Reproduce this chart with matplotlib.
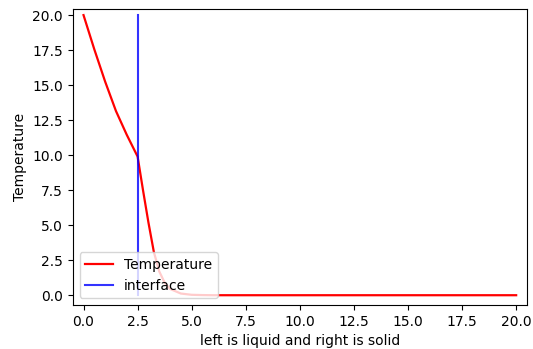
import numpy as np
import matplotlib.pyplot as plt

# Temperature profile
position = [0.0, 0.5, 1.0, 1.5, 2.0, 2.5, 2.75, 3.0, 3.25, 3.5, 3.75, 4.0, 4.5, 5.0, 5.5, 6.0, 10.0, 15.0, 20.0]
temperature = [20.0, 17.55, 15.25, 13.15, 11.45, 9.9, 7.5, 5.2, 3.1, 1.7, 0.9, 0.45, 0.12, 0.03, 0.01, 0.0, 0.0, 0.0, 0.0]

# Interface location
interface_x = [2.5, 2.5]
interface_y = [0.0, 20.0]

plt.rcParams['font.size'] = 10

fig = plt.figure(figsize=(5.33, 3.49), dpi=100)
ax = fig.add_axes([0.1364, 0.126, 0.8523, 0.8468])

ax.plot(position, temperature, color='red', lw=1.6, label='Temperature')
ax.plot(interface_x, interface_y, color='blue', lw=1.5, alpha=0.8, label='interface')

ax.set_xlim(-0.5, 20.5)
ax.set_ylim(-0.7, 20.4)
ax.set_xticks(np.arange(0, 20.1, 2.5))
ax.set_yticks(np.arange(0, 20.1, 2.5))
ax.set_xlabel("left is liquid and right is solid")
ax.set_ylabel("Temperature")
ax.legend(loc='lower left')

plt.savefig("out.png", dpi=100)
plt.close()
